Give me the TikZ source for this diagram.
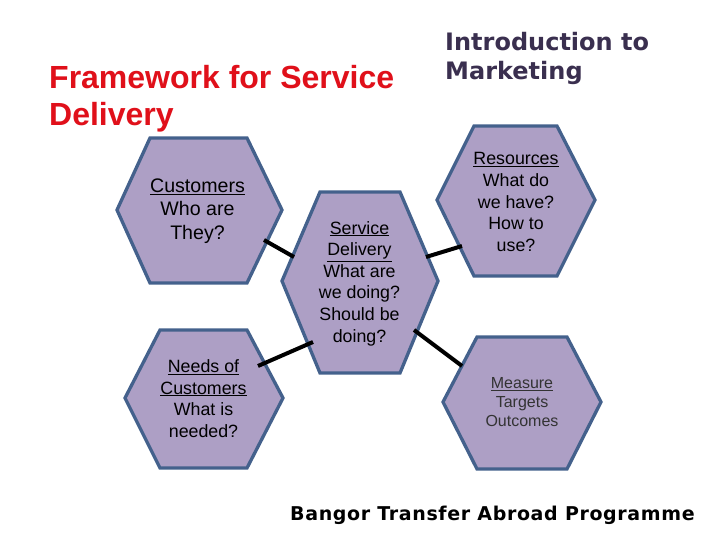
\documentclass[tikz,border=0pt]{standalone}
\usepackage{fontspec}
\setmainfont{Liberation Sans}
\newfontfamily\introfont{DejaVu Sans}
\newfontfamily\bangorfont[LetterSpace=3.3]{DejaVu Sans}
\usetikzlibrary{calc}
\definecolor{hexfill}{HTML}{AD9FC5}
\definecolor{hexline}{HTML}{44618C}
\definecolor{titlered}{HTML}{E0101A}
\definecolor{introcol}{HTML}{3A2F4F}
\tikzset{
  x=1pt,y=-1pt,
  hexshape/.style={draw=hexline,fill=hexfill,line width=3.3pt,line join=miter},
  hextext/.style={align=center,inner sep=0pt,text=black},
  bigtext/.style={hextext,font=\fontsize{19.6}{23.6}\selectfont},
  midtext/.style={hextext,font=\fontsize{17.8}{21.6}\selectfont},
  smalltext/.style={hextext,font=\fontsize{16}{19}\selectfont,text=black!80},
  conn/.style={draw=black,line width=4pt},
  titletext/.style={anchor=north west,align=left,inner sep=0pt,text=titlered,font=\bfseries\fontsize{32}{37.5}\selectfont},
  introtext/.style={anchor=north west,align=left,inner sep=0pt,text=introcol,font=\introfont\bfseries\fontsize{24}{29}\selectfont},
  bangortext/.style={anchor=west,inner sep=0pt,text=black,font=\bangorfont\bfseries\fontsize{19}{22}\selectfont}
}
\newcommand{\hexa}[7]{% left, topleft, topright, right, top, mid, bottom
  \path[hexshape] (#1,#6) -- (#2,#5) -- (#3,#5) -- (#4,#6) -- (#3,#7) -- (#2,#7) -- cycle;}
\begin{document}
\begin{tikzpicture}
\useasboundingbox (0,0) rectangle (720,540);
\fill[white] (0,0) rectangle (720,540);
\hexa{117}{150}{247}{282}{138}{210}{283}
\hexa{125}{160}{247}{283}{330}{398}{468}
\hexa{282}{320}{400}{438}{192}{281}{373}
\hexa{437}{474}{557}{595}{126}{200}{276}
\hexa{443}{477}{567}{601}{337}{402}{469}
\node[bigtext] (cust) at (197.5,211) {\underline{Customers}\\Who are\\They?};
\node[midtext] (need) at (203.5,398.5) {\underline{Needs of}\\\underline{Customers}\\What is\\needed?};
\node[midtext] (serv) at (359.5,283.5) {\underline{Service}\\\underline{Delivery}\\What are\\we doing?\\Should be\\doing?};
\node[midtext] (reso) at (516,202) {\underline{Resources}\\What do\\we have?\\How to\\use?};
\node[smalltext] (meas) at (522,402) {\underline{Measure}\\Targets\\Outcomes};
\draw[conn] ($(cust.center)+(66.5,29)$) -- ($(serv.center)+(-65.5,-26.5)$);
\draw[conn] ($(need.center)+(54.5,-32.5)$) -- ($(serv.center)+(-46.5,58.5)$);
\draw[conn] ($(serv.center)+(66.5,-26.5)$) -- ($(reso.center)+(-54,44)$);
\draw[conn] ($(serv.center)+(54.5,46.5)$) -- ($(meas.center)+(-60,-36)$);
\node[titletext] (title) at (49,65) {Framework for Service\\Delivery};
\node[introtext] (intro) at (445,32) {Introduction to\\Marketing};
\node[bangortext] (bangor) at (290,515) {Bangor Transfer Abroad Programme};
\end{tikzpicture}
\end{document}
